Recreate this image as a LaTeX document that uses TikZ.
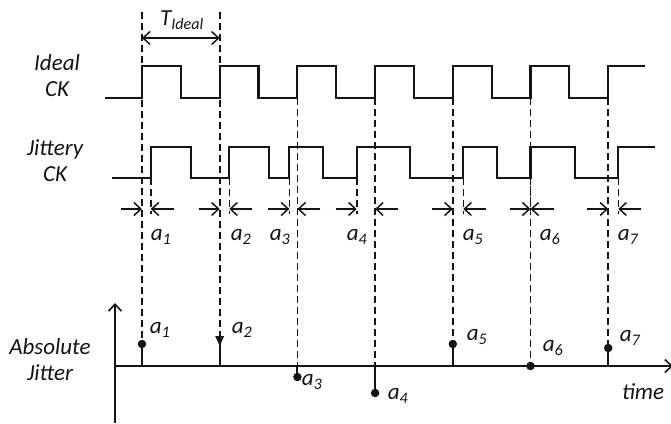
\documentclass[tikz,border=0pt]{standalone}
\usepackage{fontspec}
\setmainfont{Carlito}
\usetikzlibrary{arrows.meta, positioning, calc}
\definecolor{InkBlack}{RGB}{20, 20, 20}
\tikzset{
  sig/.style={line width=2.1pt, color=InkBlack},
  guide/.style={dash pattern=on 7pt off 4pt, line width=1.6pt, color=InkBlack},
  barb/.tip={Straight Barb[length=7pt,width=13pt,line width=1.5pt]},
  dimarr/.style={-barb, line width=1.5pt, color=InkBlack},
  stemline/.style={line width=2.1pt, color=InkBlack},
  axisarr/.style={-{Straight Barb[length=7pt,width=13pt]}, line width=1.6pt,
    color=InkBlack},
  lbl/.style={font=\fontsize{23}{26}\selectfont\itshape, text=InkBlack,
    align=center, inner sep=0pt},
  jdot/.style={circle, fill=InkBlack, inner sep=0pt, minimum size=8.5pt},
}

\begin{document}
\begin{tikzpicture}[x=1pt, y=-1pt]
  \useasboundingbox (0,0) rectangle (671,423);
  % signal names
  \node[lbl] (lideal) at (57,76) {Ideal\\CK};
  \node[lbl] (ljit) at (55,161) {Jittery\\CK};
  \node[lbl] (labs) at (50,360) {Absolute\\Jitter};

  % clocks
  \draw[sig] (105,98) -| (142,66) -| (180.8,98) -| (219.7,66) -| (258.5,98)
    -| (297.4,66) -| (336.2,98) -| (375.1,66) -| (413.9,98) -| (452.8,66)
    -| (491.6,98) -| (530.5,66) -| (569.3,98) -| (608.2,66) -- (645,66);
  \draw[sig] (112,178) -| (150.7,147) -| (191,178) -| (229.3,147) -| (269.3,178)
    -| (289.3,147) -| (322.7,178) -| (356.7,147) -| (410,178) -| (463.3,147)
    -| (496.7,178) -| (530.5,147) -| (575,178) -| (618.3,147) -- (655,147);

  % period
  \coordinate (per0) at (142,38);
  \coordinate (per1) at (219.7,38);
  \draw[dimarr, barb-barb] (per0) -- (per1);
  \node[lbl] (tid) at (182,20) {T\textsubscript{Ideal}};

  % jitter axes
  \coordinate (org) at (115,366);
  \coordinate (ytop) at (115,303);
  \coordinate (xend) at (673,366);
  \draw[axisarr] (115,423) -- (ytop);
  \draw[axisarr] (org) -- (xend);

  % edges, offsets and samples
  \foreach \k/\xi/\xj/\v/\ys in {1/142/150.7/-22/12, 2/219.7/229.3/-20/12,
      3/297.4/289.3/11/98, 4/375.1/356.7/27/98, 5/452.8/463.3/-22/98,
      6/530.5/530.5/0/98, 7/608.2/618.3/-18/98}{
    \coordinate (ie\k) at (\xi,366);
    \coordinate (je\k) at (\xj,178);
    \coordinate (m\k) at (\xi,366+\v);
    \draw[guide] (\xi,\ys) -- (ie\k);
    \draw[guide] (je\k) -- ++(0,36);
    \draw[stemline] (ie\k) -- (m\k);
    \pgfmathsetmacro{\lo}{min(\xi,\xj)}
    \pgfmathsetmacro{\hi}{max(\xi,\xj)}
    \draw[dimarr] (\lo-21,209) -- (\lo,209);
    \draw[dimarr] (\hi+23,209) -- (\hi,209);
  }
  \foreach \k in {1,3,4,5,6,7}
    \node[jdot] (d\k) at (m\k) {};
  \fill[InkBlack] ($(m2)+(-4.5,-10)$) -- ($(m2)+(4.5,-10)$) -- (m2) -- cycle;

  % offset labels
  \node[lbl] (ta1) at (161,237) {a\textsubscript{1}};
  \node[lbl] (ta2) at (241,237) {a\textsubscript{2}};
  \node[lbl] (ta3) at (280,237) {a\textsubscript{3}};
  \node[lbl] (ta4) at (357,237) {a\textsubscript{4}};
  \node[lbl] (ta5) at (473,237) {a\textsubscript{5}};
  \node[lbl] (ta6) at (550,237) {a\textsubscript{6}};
  \node[lbl] (ta7) at (628,237) {a\textsubscript{7}};

  \node[lbl] (ba1) at (160,330) {a\textsubscript{1}};
  \node[lbl] (ba2) at (242,330) {a\textsubscript{2}};
  \node[lbl] (ba3) at (312,382) {a\textsubscript{3}};
  \node[lbl] (ba4) at (398,396) {a\textsubscript{4}};
  \node[lbl] (ba5) at (477,337) {a\textsubscript{5}};
  \node[lbl] (ba6) at (553,348) {a\textsubscript{6}};
  \node[lbl] (ba7) at (630,338) {a\textsubscript{7}};
  \node[lbl] (ltime) at (643,392) {time};
\end{tikzpicture}
\end{document}
